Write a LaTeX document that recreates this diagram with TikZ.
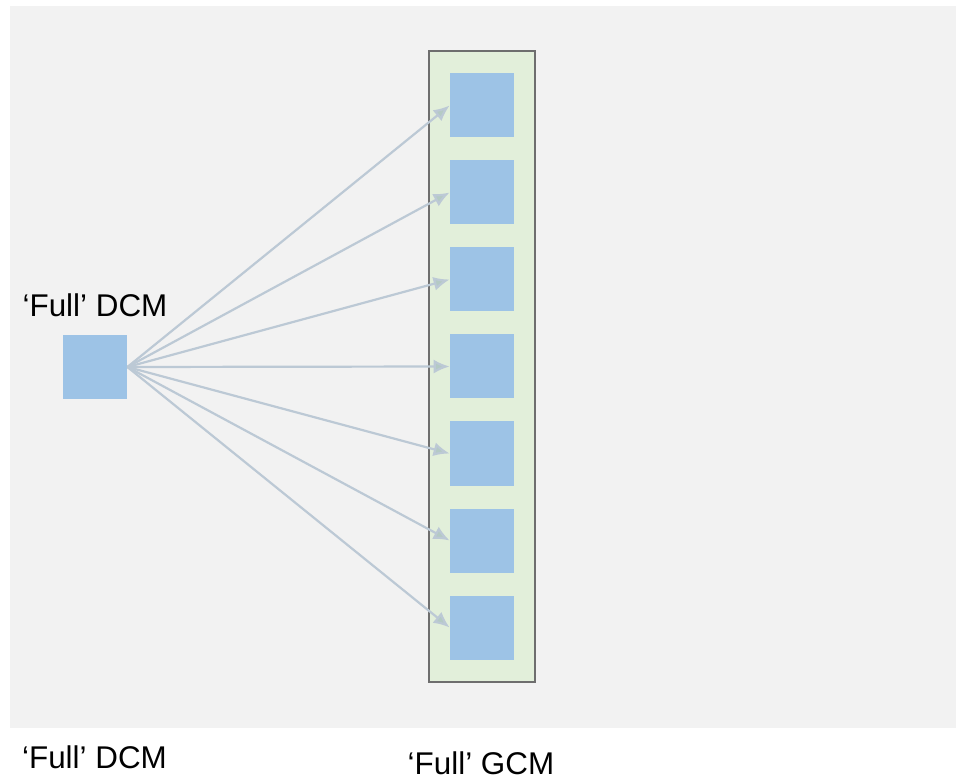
\documentclass[tikz,border=0pt]{standalone}
\usepackage{fontspec}
\setmainfont{Liberation Sans}
\usetikzlibrary{arrows.meta,positioning}

\definecolor{panelgray}{RGB}{242,242,242}
\definecolor{cellblue}{RGB}{157,195,230}
\definecolor{colgreen}{RGB}{226,239,218}
\definecolor{colborder}{RGB}{110,110,110}
\definecolor{linkgray}{RGB}{188,201,213}
\definecolor{tipgray}{RGB}{180,202,196}

\begin{document}
\begin{tikzpicture}[
    x=0.5pt, y=-0.5pt,
    cell/.style={draw=none, fill=cellblue, minimum size=32pt, inner sep=0pt},
    column/.style={draw=colborder, line width=1.3pt, fill=colgreen, minimum width=53pt, minimum height=315.5pt, inner sep=0pt},
    link/.style={draw=linkgray, line width=1.1pt, -{Latex[length=8pt, width=7pt, fill=tipgray]}},
    lbl/.style={font=\fontsize{15.7}{18}\selectfont, inner sep=0pt}
]
  \useasboundingbox (0,0) rectangle (956,779);
  % Panel
  \fill[panelgray] (10,6) rectangle (956,728);

  % Source model
  \node[cell] (dcm) at (95,367) {};
  \node[lbl, above=8.5pt of dcm] (dcmtop) {‘Full’ DCM};

  % GCM column
  \node[column] (gcm) at (482,366.5) {};
  \foreach \i in {1,...,7}
    \node[cell] (g\i) at (482,{105.5+87*(\i-1)}) {};

  % Links
  \foreach \i in {1,...,7}
    \draw[link] (dcm.east) -- (g\i.west);

  % Captions
  \node[lbl] (dcmcap) at (94.5,757) {‘Full’ DCM};
  \node[lbl] (gcmcap) at (481,763) {‘Full’ GCM};
\end{tikzpicture}
\end{document}
